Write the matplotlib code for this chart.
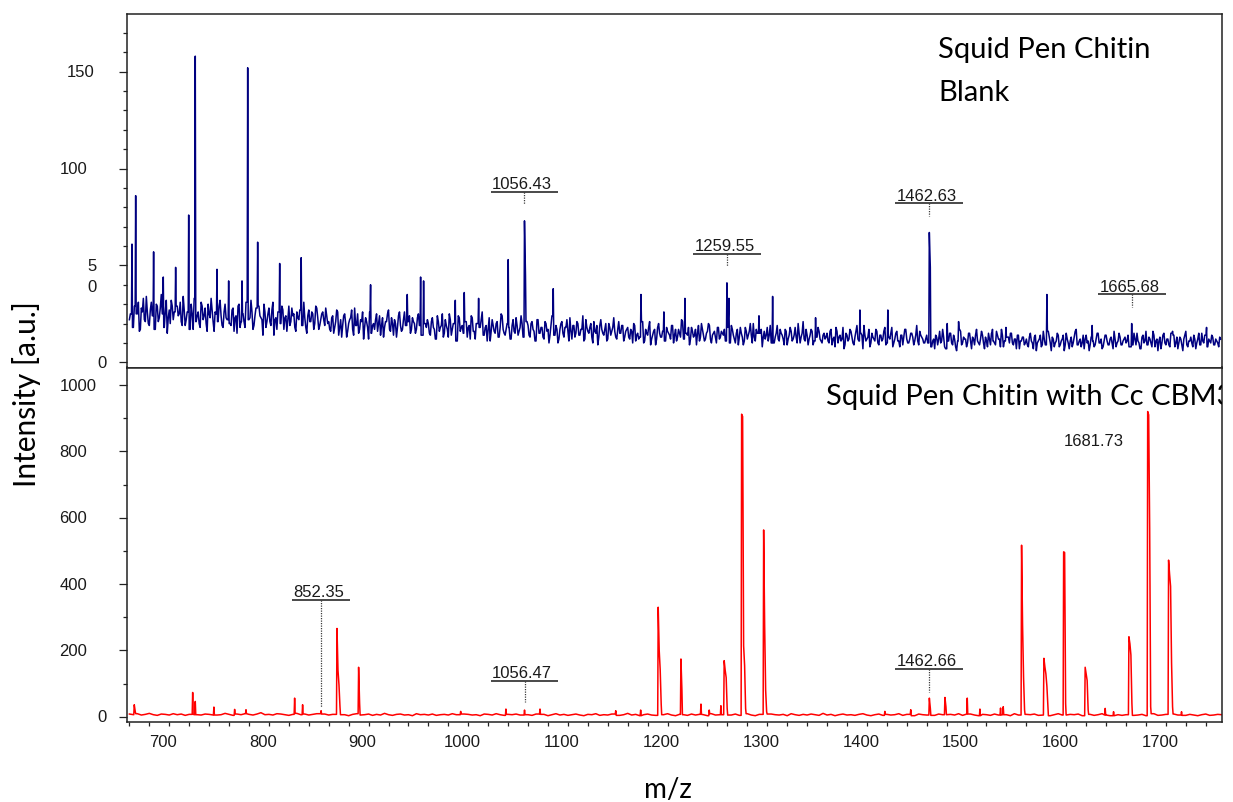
import numpy as np
import matplotlib
matplotlib.use("Agg")
import matplotlib.pyplot as plt
from matplotlib.ticker import MultipleLocator
from matplotlib.transforms import blended_transform_factory, ScaledTranslation

# --- blank spectrum (navy): baseline at even m/z (660, 662, ...) and odd m/z (661, 663, ...) ---
blank_even = [
    22, 27, 18, 30, 25, 16, 28, 33, 21, 26, 19, 31, 24, 17, 29, 23, 35, 20, 26, 15,
    27, 32, 22, 18, 29, 25, 21, 34, 19, 26, 23, 30, 17, 27, 24, 20, 31, 22, 28, 16,
    25, 33, 21, 26, 19, 29, 24, 18, 30, 22,
    26, 19, 28, 23, 15, 30, 21, 25, 18, 27, 22, 32, 17, 24, 20, 29, 23, 14, 26, 21,
    28, 19, 31, 22, 17, 25, 20, 27, 23, 16, 29, 21, 24, 18, 26, 22, 30, 19, 23, 15,
    27, 21, 25, 20, 28, 17, 22, 26, 19, 24,
    21, 16, 24, 18, 27, 14, 22, 19, 25, 13, 20, 23, 17, 28, 19, 15, 22, 26, 18, 21,
    12, 24, 19, 17, 25, 20, 14, 23, 18, 21, 27, 16, 20, 22, 13, 24, 19, 17, 26, 18,
    21, 15, 23, 20, 17, 25, 19, 14, 22, 18,
    20, 14, 23, 17, 12, 21, 18, 25, 15, 19, 13, 22, 17, 20, 11, 24, 16, 19, 14, 21,
    18, 12, 23, 16, 20, 15, 18, 26, 14, 19, 17, 11, 22, 16, 20, 13, 18, 24, 15, 17,
    21, 12, 19, 16, 23, 14, 18, 20, 13, 17,
    19, 13, 21, 16, 11, 22, 15, 18, 12, 20, 17, 14, 24, 15, 19, 10, 17, 21, 13, 18,
    16, 23, 12, 19, 15, 20, 14, 17, 11, 22, 16, 18, 13, 21, 15, 9, 19, 17, 14, 20,
    12, 18, 16, 23, 13, 17, 15, 19, 11, 16,
    18, 12, 16, 20, 11, 15, 13, 19, 10, 17, 14, 21, 12, 16, 9, 18, 15, 13, 20, 11,
    16, 14, 19, 10, 17, 13, 15, 22, 12, 16, 14, 9, 18, 13, 17, 15, 11, 20, 14, 12,
    16, 19, 10, 15, 13, 18, 12, 16, 14, 11,
    16, 12, 19, 14, 10, 17, 13, 15, 9, 18, 12, 16, 14, 20, 11, 15, 8, 17, 13, 12,
    18, 14, 10, 16, 13, 19, 11, 15, 12, 17, 9, 14, 16, 12, 18, 10, 15, 13, 21, 11,
    14, 12, 17, 9, 15, 13, 16, 11, 14, 12,
    15, 10, 17, 12, 8, 16, 13, 11, 18, 9, 14, 12, 16, 10, 13, 19, 11, 15, 7, 14,
    12, 17, 10, 13, 11, 16, 9, 14, 12, 18, 10, 13, 15, 8, 12, 16, 11, 14, 9, 17,
    12, 10, 15, 13, 11, 19, 9, 14, 12, 10,
    14, 9, 16, 11, 7, 13, 12, 10, 17, 8, 14, 11, 15, 9, 12, 6, 13, 16, 10, 12,
    8, 15, 11, 13, 9, 17, 10, 12, 14, 7, 11, 15, 9, 13, 10, 16, 12, 8, 14, 11,
    9, 13, 15, 10, 12, 7, 14, 11, 13, 9,
    12, 8, 15, 10, 13, 6, 11, 14, 9, 12, 7, 16, 10, 13, 8, 11, 14, 9, 12, 6,
    15, 10, 11, 8, 13, 17, 9, 12, 10, 7, 14, 11, 9, 13, 8, 12, 15, 10, 7, 11,
    14, 9, 12, 10, 16, 8, 11, 13, 9, 12,
    10, 14, 8, 12, 15, 9, 11, 7, 13, 10, 16, 9, 12, 8, 14, 11, 6, 13, 10, 15,
    9, 12, 8, 11, 14, 10, 7, 13, 9, 12, 16, 8, 11, 10, 14, 7, 12, 9, 15, 10,
    13, 8, 11, 14, 9, 12, 10, 13,
]
blank_odd = [
    25, 19, 29, 23, 31, 17, 26, 22, 34, 20, 27, 24, 16, 30, 21, 28, 25, 18, 32, 23,
    20, 29, 26, 15, 24, 31, 19, 27, 22, 28, 17, 25, 33, 21, 26, 18, 29, 24, 20, 30,
    23, 27, 16, 25, 21, 32, 19, 26, 23, 28,
    20, 27, 16, 24, 29, 18, 25, 21, 31, 17, 23, 26, 19, 28, 15, 24, 22, 30, 18, 25,
    21, 27, 14, 23, 26, 20, 29, 17, 24, 22, 19, 28, 25, 16, 23, 27, 20, 31, 18, 24,
    21, 26, 17, 29, 23, 19, 25, 22, 28, 20,
    17, 23, 15, 21, 26, 18, 13, 24, 20, 16, 22, 27, 14, 19, 25, 17, 21, 12, 23, 18,
    26, 15, 20, 22, 16, 24, 19, 13, 21, 25, 17, 23, 14, 20, 18, 26, 16, 22, 19, 12,
    24, 17, 21, 15, 23, 19, 27, 16, 20, 22,
    15, 21, 18, 12, 24, 16, 19, 13, 22, 17, 25, 14, 20, 16, 11, 23, 18, 15, 21, 13,
    19, 24, 16, 12, 20, 17, 22, 14, 18, 11, 23, 16, 19, 15, 21, 13, 25, 17, 14, 20,
    18, 12, 22, 15, 19, 16, 24, 13, 17, 21,
    14, 20, 17, 11, 22, 15, 18, 13, 21, 16, 10, 19, 23, 14, 17, 12, 20, 15, 18, 22,
    11, 16, 19, 13, 21, 14, 17, 24, 12, 18, 15, 20, 10, 16, 19, 13, 22, 15, 17, 11,
    20, 14, 18, 16, 12, 21, 15, 19, 13, 17,
    13, 17, 10, 19, 14, 12, 16, 21, 11, 15, 18, 9, 14, 17, 12, 20, 13, 16, 10, 18,
    15, 12, 19, 14, 11, 17, 13, 21, 10, 15, 18, 12, 16, 14, 9, 19, 13, 17, 11, 15,
    20, 12, 14, 16, 10, 18, 13, 15, 17, 12,
    14, 10, 17, 12, 15, 9, 18, 13, 11, 16, 14, 20, 10, 13, 17, 12, 15, 8, 16, 14,
    11, 19, 13, 10, 15, 12, 17, 14, 9, 16, 12, 18, 11, 14, 13, 20, 10, 15, 12, 17,
    9, 14, 16, 11, 13, 18, 12, 10, 15, 13,
    11, 16, 9, 13, 18, 10, 14, 12, 7, 15, 11, 17, 13, 9, 16, 12, 10, 14, 19, 11,
    13, 8, 15, 12, 17, 10, 14, 11, 16, 9, 13, 12, 18, 10, 15, 11, 8, 14, 13, 17,
    10, 12, 15, 9, 14, 11, 16, 13, 10, 12,
    10, 15, 8, 12, 14, 9, 16, 11, 13, 7, 12, 15, 10, 14, 8, 11, 17, 9, 13, 12,
    10, 15, 7, 12, 14, 11, 9, 16, 10, 13, 8, 12, 15, 11, 9, 14, 12, 17, 8, 11,
    13, 10, 15, 9, 12, 14, 7, 11, 13, 10,
    9, 13, 11, 7, 14, 10, 12, 8, 16, 9, 11, 13, 6, 12, 10, 15, 8, 11, 14, 9,
    12, 7, 13, 10, 16, 9, 11, 8, 14, 12, 10, 6, 13, 11, 9, 15, 10, 12, 8, 14,
    11, 9, 13, 7, 12, 10, 15, 9, 11, 13,
    11, 8, 13, 9, 12, 15, 10, 7, 14, 11, 9, 13, 10, 16, 8, 12, 11, 7, 14, 10,
    12, 9, 15, 11, 8, 13, 10, 12, 6, 14, 9, 11, 13, 8, 12, 10, 15, 9, 11, 14,
    7, 12, 10, 13, 9, 11, 8, 12,
]
# (m/z of first point, intensities at 1 m/z spacing)
blank_peaks = [
    (662.6, [61]), (666.3, [86]), (684.3, [57]), (694.0, [44]), (706.4, [49]),
    (719.5, [76]), (726.1, [158]), (747.9, [48]), (759.6, [42]), (773.0, [42]),
    (778.7, [152]), (788.7, [62]), (810.8, [51]), (832.4, [54]), (902.0, [40]),
    (938.8, [35]), (952.2, [44]), (955.2, [42]), (987.0, [32]), (996.0, [36]),
    (1010.4, [33]), (1040.1, [53]), (1056.43, [73, 45]), (1085.3, [38]),
    (1173.3, [35]), (1196.3, [26]), (1217.4, [33]), (1259.55, [41, 18, 33]),
    (1291.7, [24]), (1305.4, [34]), (1348.5, [23]), (1393.0, [27]), (1421.0, [27]),
    (1462.63, [67, 49]), (1480.6, [20]), (1492.0, [21]), (1526.0, [17]),
    (1539.5, [18]), (1580.6, [35]), (1626.0, [19]), (1665.68, [20]),
    (1706.7, [16]), (1740.8, [18]),
]
blank_labels = [1056.43, 1259.55, 1462.63, 1665.68]

# --- chitin + Cc CBM33 spectrum (red): baseline every 4 m/z from 660 ---
cbm_baseline = [
    8, 6, 9, 5, 7, 10, 6, 4, 8, 7, 5, 9, 6, 8, 4, 7, 11, 6, 5, 8,
    7, 9, 5, 6, 10, 7, 4, 8, 6, 9, 7, 5, 8, 12, 6, 7, 5, 9, 8, 6,
    4, 7, 10, 6, 8, 5, 7, 9, 6, 8,
    5, 7, 4, 8, 6, 3, 7, 9, 5, 6, 8, 4, 7, 5, 10, 6, 4, 7, 8, 5,
    6, 3, 9, 6, 7, 5, 8, 4, 6, 7, 5, 9, 6, 4, 8, 7, 5, 6, 3, 8,
    7, 5, 9, 6, 4, 7, 6, 8, 5, 7,
    6, 4, 8, 5, 7, 3, 6, 9, 5, 7, 4, 6, 8, 5, 3, 7, 6, 9, 4, 6,
    5, 8, 7, 4, 6, 10, 5, 7, 3, 6, 8, 5, 4, 7, 6, 9, 5, 3, 7, 6,
    4, 8, 5, 7, 6, 3, 9, 5, 6, 4,
    7, 5, 8, 4, 6, 9, 5, 3, 7, 6, 4, 8, 6, 5, 7, 3, 9, 6, 4, 7,
    5, 8, 6, 4, 10, 5, 7, 3, 6, 8, 5, 6, 4, 7, 9, 5, 3, 6, 8, 4,
    7, 5, 6, 9, 4, 7, 5, 3, 8, 6,
    5, 7, 4, 8, 6, 3, 7, 5, 9, 4, 6, 8, 5, 3, 7, 6, 4, 8, 5, 7,
    6, 3, 9, 5, 4, 7, 6, 8, 4, 5, 7, 3, 6, 9, 5, 4, 7, 6, 8, 3,
    5, 7, 4, 6, 9, 5, 3, 7, 6, 4,
    6, 8, 4, 5, 7, 3, 6, 9, 4, 5, 7, 3, 8, 5, 6, 4, 7, 5, 3, 6,
    8, 4, 5, 7, 6,
]
cbm_peaks = [
    (664.9, [36, 15]), (723.5, [73]), (726.1, [46]), (744.8, [29]), (765.6, [22]),
    (777.0, [21]), (825.8, [56]), (833.8, [36]), (852.35, [18]),
    (868.3, [266, 140, 96, 30]), (890.0, [149, 40]), (992.4, [16]), (1037.8, [23]),
    (1056.47, [20]), (1072.0, [23]), (1148.0, [18]), (1173.0, [20]),
    (1190.6, [330, 200, 141, 38]), (1213.4, [174, 80]), (1233.5, [38]),
    (1241.8, [20]), (1253.5, [33]), (1256.8, [169, 140, 118, 25]),
    (1274.3, [912, 905, 214, 154, 25]), (1296.4, [563, 276, 80, 15]),
    (1418.0, [16]), (1444.0, [21]), (1462.66, [56, 25]), (1478.3, [58, 30]),
    (1500.7, [56]), (1513.4, [23]), (1534.1, [26]), (1536.8, [30]),
    (1555.2, [517, 276, 117, 20]), (1577.6, [176, 150, 129, 92, 30]),
    (1597.4, [497, 495, 40]), (1619.0, [149, 130, 109, 20]), (1639.1, [25]),
    (1647.5, [15]), (1662.9, [241, 220, 186, 40]), (1681.73, [920, 910, 568, 30]),
    (1702.7, [472, 430, 393, 161, 30]), (1715.7, [15]),
]
cbm_labels = [852.35, 1056.47, 1462.66]
cbm_top_label = 1681.73

NAVY = "#000080"
RED = "#ff0000"
INK = "#1a1a1a"
NUM_FONT = "Liberation Sans"
TEXT_FONT = "Lato"


def build_trace(grids, peaks):
    """Merge sampled baseline grids and peak points into one sorted trace."""
    gx = np.concatenate([x0 + step * np.arange(len(v)) for x0, step, v in grids])
    gy = np.concatenate([np.asarray(v, dtype=float) for _, _, v in grids])
    keep = np.ones(len(gx), dtype=bool)
    for mz, heights in peaks:
        last = mz + len(heights) - 1
        keep &= ~((gx > mz - 0.9) & (gx < last + 0.9))
    gx, gy = gx[keep], gy[keep]
    px, py = [], []
    for mz, heights in peaks:
        xs = list(mz + np.arange(len(heights)))
        # foot of the peak sits on the nearest baseline sample on each side
        left = gy[np.argmin(np.abs(gx - (xs[0] - 0.5)))]
        right = gy[np.argmin(np.abs(gx - (xs[-1] + 0.5)))]
        px.extend([xs[0] - 0.5] + xs + [xs[-1] + 0.5])
        py.extend([left] + list(heights) + [right])
    x = np.concatenate([gx, px])
    y = np.concatenate([gy, py])
    order = np.argsort(x, kind="stable")
    return x[order], y[order]


def peak_height(peaks, mz):
    for p, heights in peaks:
        if abs(p - mz) < 1e-6:
            return heights[0]
    raise KeyError(mz)


def label_peak(ax, mz, line_y, stem_bottom):
    text = f"{mz:.2f}"
    hw = 5 * len(text) - 1
    ax.plot([mz - hw, mz + hw], [line_y, line_y], color="#3a3a3a", lw=1.3,
            solid_capstyle="butt", zorder=4)
    ax.plot([mz, mz], [line_y, stem_bottom], color="#3a3a3a", lw=0.9,
            ls=(0, (1, 1)), zorder=4)
    ax.annotate(text, xy=(mz - hw + 1.5, line_y), xytext=(0, 2.5),
                textcoords="offset points", ha="left", va="baseline",
                fontsize=12, family=NUM_FONT, color=INK, zorder=5)


fig = plt.figure(figsize=(12.33, 8.03), dpi=100)
W, H = 1233, 803
x_left, x_right = 126.7, 1221.7
ax1 = fig.add_axes([x_left / W, 1 - 368.5 / H, (x_right - x_left) / W, (368.5 - 15.3) / H])
ax2 = fig.add_axes([x_left / W, 1 - 722.7 / H, (x_right - x_left) / W, (722.7 - 368.5) / H])

bx, by = build_trace([(660, 2, blank_even), (661, 2, blank_odd)], blank_peaks)
ax1.plot(bx, by, color=NAVY, lw=1.1)
cx, cy = build_trace([(660, 4, cbm_baseline)], cbm_peaks)
ax2.plot(cx, cy, color=RED, lw=1.1)

for ax in (ax1, ax2):
    ax.set_xlim(657.3, 1756)
    for s in ax.spines.values():
        s.set_linewidth(1.1)
        s.set_color("#222222")
    ax.tick_params(axis="y", which="major", length=5.5, width=0.9, direction="out",
                   labelleft=False, color="#222222")
    ax.tick_params(axis="y", which="minor", length=3, width=0.9, direction="out",
                   color="#222222")

ax1.set_ylim(-2.68, 179.6)
ax1.yaxis.set_major_locator(MultipleLocator(50))
ax1.yaxis.set_minor_locator(MultipleLocator(10))
ax1.tick_params(axis="x", which="both", bottom=False, labelbottom=False)

ax2.set_ylim(-15.1, 1052.8)
ax2.yaxis.set_major_locator(MultipleLocator(200))
ax2.yaxis.set_minor_locator(MultipleLocator(100))
ax2.xaxis.set_minor_locator(MultipleLocator(20))
ax2.tick_params(axis="x", which="major", length=3.2, width=0.9, pad=5.5,
                labelsize=12, color="#222222")
ax2.tick_params(axis="x", which="minor", length=3, width=0.9, color="#222222")
ax2.set_xticks(list(range(700, 1800, 100)))
ax2.set_xticklabels([str(t) for t in range(700, 1800, 100)], family=NUM_FONT,
                    color=INK)
for lab in ax2.get_xticklabels():
    lab.set_transform(lab.get_transform() + ScaledTranslation(-6 / 100, 0, fig.dpi_scale_trans))

# hand-placed y labels (x in figure pixels, y in data units)
for ax, labels in (
    (ax1, [(66.7, 150, "150"), (59.3, 100, "100"), (87.3, 50, "5"), (87.3, 39.2, "0"),
           (97.3, 0, "0")]),
    (ax2, [(59.3, 1000, "1000"), (59.3, 800, "800"), (59.3, 600, "600"),
           (59.3, 400, "400"), (59.3, 200, "200"), (97.3, 0, "0")]),
):
    tr = blended_transform_factory(fig.transFigure, ax.transData)
    for px, val, txt in labels:
        ax.text(px / W, val, txt, transform=tr, ha="left", va="center",
                fontsize=12, family=NUM_FONT, color=INK, clip_on=False)

# peak annotations
for mz in blank_labels:
    h = peak_height(blank_peaks, mz)
    label_peak(ax1, mz, h + 15, h + 8.6)

cbm_label_lines = {852.35: (352, 30), 1056.47: (108, 43), 1462.66: (144, 74)}
for mz in cbm_labels:
    line_y, stem_bottom = cbm_label_lines[mz]
    label_peak(ax2, mz, line_y, stem_bottom)
ax2.text(1658, 834, f"{cbm_top_label:.2f}", ha="right", va="center",
         fontsize=12, family=NUM_FONT, color=INK)

# panel captions
ax1.text(938 / W, 1 - 58 / H, "Squid Pen Chitin", transform=fig.transFigure,
         fontsize=21, family=TEXT_FONT, color="black", va="baseline")
ax1.text(938 / W, 1 - 101 / H, "Blank", transform=fig.transFigure,
         fontsize=21, family=TEXT_FONT, color="black", va="baseline")
cap2 = ax2.text(826 / W, 1 - 405 / H, "Squid Pen Chitin with Cc CBM33",
                transform=fig.transFigure, fontsize=21, family=TEXT_FONT,
                color="black", va="baseline", clip_on=True)
cap2.set_clip_path(ax2.patch)

fig.text(27 / W, 1 - 394 / H, "Intensity [a.u.]", rotation=90, ha="center", va="center",
         fontsize=21.5, family=TEXT_FONT, color="black")
fig.text(668 / W, 1 - 790 / H, "m/z", ha="center", va="center",
         fontsize=20, family=TEXT_FONT, color="black")

fig.savefig("out.png", dpi=100)
